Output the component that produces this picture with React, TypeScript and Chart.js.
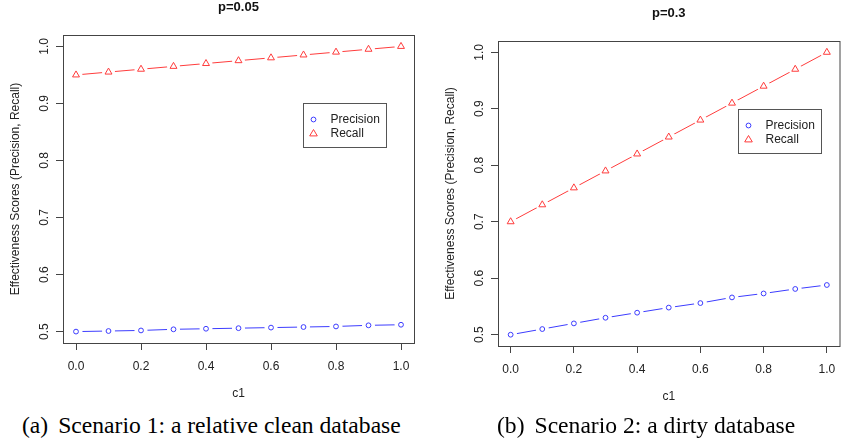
import React, { useEffect, useRef } from 'react';
import { Chart, registerables } from 'chart.js';

Chart.register(...registerables);

// ---------- data ----------
const c1 = [0, 0.1, 0.2, 0.3, 0.4, 0.5, 0.6, 0.7, 0.8, 0.9, 1.0];
const precisionClean = [0.5, 0.501, 0.502, 0.504, 0.505, 0.506, 0.507, 0.508, 0.509, 0.511, 0.512];
const recallClean = [0.95, 0.955, 0.96, 0.965, 0.97, 0.975, 0.98, 0.985, 0.99, 0.995, 1.0];
const precisionDirty = [0.5, 0.51, 0.52, 0.53, 0.539, 0.548, 0.556, 0.566, 0.573, 0.581, 0.588];
const recallDirty = [0.7, 0.73, 0.76, 0.79, 0.82, 0.85, 0.88, 0.91, 0.94, 0.97, 1.0];
const seriesNames = ['Precision', 'Recall'];
const plotTitles = ['p=0.05', 'p=0.3'];
const xAxisTitle = 'c1';
const yAxisTitle = 'Effectiveness Scores (Precision, Recall)';
const captionLabels = ['(a)', '(b)'];
const captionTexts = ['Scenario 1: a relative clean database', 'Scenario 2: a dirty database'];

// ---------- style ----------
const SANS = '"Liberation Sans", Arial, sans-serif';
const SERIF = '"Liberation Serif", "Times New Roman", serif';
const BLUE = '#3c3cff';
const RED = '#ff3c3c';
const AXIS = '#444';
const TEXT = '#222';

function seriesSets(name: string, values: number[], color: string, style: string, radius: number) {
  const pts = c1.map((x, i) => ({ x, y: values[i] }));
  return [
    { label: name, data: pts, showLine: true, borderColor: color, borderWidth: 1, pointRadius: 0, order: 3 },
    {
      label: name + '-gap', data: pts, showLine: false, pointRadius: 6.5, pointStyle: 'circle',
      pointBackgroundColor: '#ffffff', pointBorderWidth: 0, pointBorderColor: 'rgba(0,0,0,0)', order: 2,
    },
    {
      label: name + '-marker', data: pts, showLine: false, pointRadius: radius, pointStyle: style,
      pointBackgroundColor: 'rgba(0,0,0,0)', pointBorderColor: color, pointBorderWidth: 1, order: 1,
    },
  ];
}

const framePlugin = {
  id: 'frame',
  beforeDatasetsDraw(chart: any) {
    const { ctx, chartArea: a } = chart;
    ctx.save();
    ctx.strokeStyle = AXIS;
    ctx.lineWidth = 1;
    ctx.strokeRect(a.left + 0.5, a.top + 0.5, a.right - a.left, a.bottom - a.top);
    ctx.restore();
  },
};

const legendBoxPlugin = {
  id: 'legendBox',
  afterDatasetsDraw(chart: any) {
    const { ctx, chartArea: a } = chart;
    const x = a.left + 240.5;
    const y = a.top + 68.5;
    const w = 83;
    const h = 44;
    ctx.save();
    ctx.fillStyle = '#fff';
    ctx.fillRect(x, y, w, h);
    ctx.strokeStyle = '#555';
    ctx.lineWidth = 1;
    ctx.strokeRect(x, y, w, h);
    const rows = [y + 16, y + 30];
    ctx.strokeStyle = BLUE;
    ctx.beginPath();
    ctx.arc(x + 10, rows[0], 2.4, 0, Math.PI * 2);
    ctx.stroke();
    ctx.strokeStyle = RED;
    const r = 4;
    ctx.beginPath();
    ctx.moveTo(x + 10, rows[1] - r);
    ctx.lineTo(x + 10 + r * 0.95, rows[1] + r * 0.6);
    ctx.lineTo(x + 10 - r * 0.95, rows[1] + r * 0.6);
    ctx.closePath();
    ctx.stroke();
    ctx.fillStyle = TEXT;
    ctx.font = '12px ' + SANS;
    ctx.textBaseline = 'middle';
    ctx.textAlign = 'left';
    ctx.fillText(seriesNames[0], x + 27, rows[0]);
    ctx.fillText(seriesNames[1], x + 27, rows[1]);
    ctx.restore();
  },
};

type PlotProps = {
  title: string;
  precision: number[];
  recall: number[];
  left: number;
  width: number;
  height: number;
  padding: { left: number; right: number; top: number; bottom: number };
};

function Plot({ title, precision, recall, left, width, height, padding }: PlotProps) {
  const ref = useRef<HTMLCanvasElement>(null);
  useEffect(() => {
    const chart = new Chart(ref.current as HTMLCanvasElement, {
      type: 'scatter',
      data: {
        datasets: [
          ...seriesSets(seriesNames[0], precision, BLUE, 'circle', 2.4),
          ...seriesSets(seriesNames[1], recall, RED, 'triangle', 4),
        ] as any,
      },
      options: {
        animation: false,
        responsive: false,
        events: [],
        layout: { padding },
        plugins: {
          legend: { display: false },
          tooltip: { enabled: false },
          title: {
            display: true,
            text: title,
            fullSize: false,
            color: '#111',
            font: { family: SANS, size: 13, weight: 'bold' },
            padding: { top: 0, bottom: 19.4 },
          },
        },
        scales: {
          x: {
            type: 'linear',
            min: -0.04,
            max: 1.04,
            border: { display: false },
            grid: { display: true, drawOnChartArea: false, drawTicks: true, tickLength: 7, tickColor: AXIS, lineWidth: 1 },
            ticks: {
              stepSize: 0.2,
              includeBounds: false,
              autoSkip: false,
              maxRotation: 0,
              padding: 9,
              color: TEXT,
              font: { family: SANS, size: 12 },
              callback: (v: any) => Number(v).toFixed(1),
            },
            title: {
              display: true,
              text: xAxisTitle,
              color: TEXT,
              font: { family: SANS, size: 12 },
              padding: { top: 0, bottom: 9 },
            },
            afterFit: (s: any) => { s.height = 67; },
          },
          y: {
            type: 'linear',
            min: 0.48,
            max: 1.02,
            border: { display: false },
            grid: { display: true, drawOnChartArea: false, drawTicks: true, tickLength: 7, tickColor: AXIS, lineWidth: 1 },
            ticks: {
              stepSize: 0.1,
              includeBounds: false,
              autoSkip: false,
              minRotation: 90,
              maxRotation: 90,
              crossAlign: 'center',
              padding: 3,
              color: TEXT,
              font: { family: SANS, size: 12 },
              callback: (v: any) => Number(v).toFixed(1),
            },
            title: {
              display: true,
              text: yAxisTitle,
              color: TEXT,
              font: { family: SANS, size: 12 },
              padding: { top: 8, bottom: 0 },
            },
            afterFit: (s: any) => { s.width = 63; },
          },
        },
      } as any,
      plugins: [framePlugin, legendBoxPlugin],
    });
    return () => chart.destroy();
  }, []);
  return (
    <canvas
      ref={ref}
      width={width}
      height={height}
      style={{ position: 'absolute', left, top: 0, width, height }}
    />
  );
}

function Caption({ label, text, left }: { label: string; text: string; left: number }) {
  return (
    <div
      style={{
        position: 'absolute', left, top: 414, fontFamily: SERIF, fontSize: 23.6, lineHeight: 1,
        whiteSpace: 'nowrap', color: '#000',
      }}
    >
      <span style={{ marginRight: 10 }}>{label}</span>
      <span>{text}</span>
    </div>
  );
}

export default function App() {
  return (
    <div
      style={{
        position: 'fixed', left: 0, top: 0, width: 845, height: 445, overflow: 'hidden', background: '#fff',
      }}
    >
      <Plot
        title={plotTitles[0]}
        precision={precisionClean}
        recall={recallClean}
        left={0}
        width={422}
        height={410}
        padding={{ left: 0, right: 8, top: 0, bottom: 0 }}
      />
      <Plot
        title={plotTitles[1]}
        precision={precisionDirty}
        recall={recallDirty}
        left={422}
        width={424}
        height={413}
        padding={{ left: 13, right: 0, top: 6, bottom: 0 }}
      />
      <Caption label={captionLabels[0]} text={captionTexts[0]} left={22} />
      <Caption label={captionLabels[1]} text={captionTexts[1]} left={497} />
    </div>
  );
}
